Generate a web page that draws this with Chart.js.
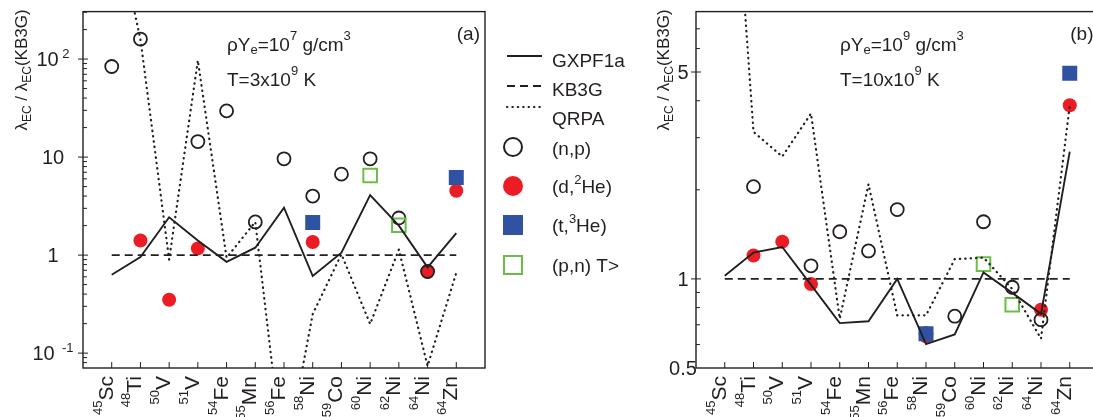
<!DOCTYPE html>
<html>
<head>
<meta charset="utf-8">
<script src="https://cdn.jsdelivr.net/npm/chart.js@4"></script>
<style>
  html, body { margin: 0; padding: 0; background: #fff; overflow: hidden; width: 1093px; height: 417px; }
  #ca { position: absolute; left: 0; top: 0; }
  #cb { position: absolute; left: 645px; top: 0; }
</style>
</head>
<body>
<canvas id="ca" width="645" height="417"></canvas>
<canvas id="cb" width="475" height="417"></canvas>
<script>
// categories: element symbol + mass number
const isotopeSymbols = ["Sc", "Ti", "V", "V", "Fe", "Mn", "Fe", "Ni", "Co", "Ni", "Ni", "Ni", "Zn"];
const massNumbers = ["45", "48", "50", "51", "54", "55", "56", "58", "59", "60", "62", "64", "64"];

// panel (a): rhoYe = 1e7 g/cm3, T = 3e9 K
const gxpf1aA = [0.63, 0.955, 2.43, 1.41, 0.855, 1.19, 3.05, 0.612, 1.06, 4.1, 2.0, 0.75, 1.68];
const kb3gA = [1, 1, 1, 1, 1, 1, 1, 1, 1, 1, 1, 1, 1];
const qrpaA = [3500, 160, 0.9, 97, 0.94, 2.18, 0.007, 0.25, 1.02, 0.198, 1.14, 0.074, 0.66];
const npA = [84, 160, null, 14.4, 29.6, 2.18, 9.6, 4.0, 6.7, 9.6, 2.39, 0.68, null];
const d2heA = [null, 1.41, 0.35, 1.17, null, null, null, 1.36, null, null, null, 0.68, 4.54];
const t3heA = [null, null, null, null, null, null, null, 2.15, null, null, null, null, 6.2];
const pnA = [null, null, null, null, null, null, null, null, null, 6.5, 2.02, null, null];

// panel (b): rhoYe = 1e9 g/cm3, T = 10e9 K
const gxpf1aB = [1.025, 1.227, 1.282, 0.955, 0.709, 0.719, 1.0, 0.602, 0.649, 1.052, 0.897, 0.762, 2.69];
const kb3gB = [1, 1, 1, 1, 1, 1, 1, 1, 1, 1, 1, 1, 1];
const qrpaB = [75, 3.14, 2.59, 3.62, 0.734, 2.09, 0.753, 0.753, 1.166, 1.18, 0.925, 0.628, 3.86];
const npB = [null, 2.05, null, 1.107, 1.443, 1.243, 1.715, 0.653, 0.748, 1.56, 0.937, 0.728, null];
const d2heB = [null, 1.2, 1.336, 0.961, null, null, null, 0.64, null, null, null, 0.787, 3.86];
const t3heB = [null, null, null, null, null, null, null, 0.653, null, null, null, null, 4.95];
const pnB = [null, null, null, null, null, null, null, null, null, 1.122, 0.818, null, null];

// y tick labels
const yTickValuesA = [0.1, 1, 10, 100];
const yTickLabelsA = [[["10"], ["  -1", "sup"]], [["1"]], [["10"]], [["10"], [" 2", "sup"]]];
const yTickValuesB = [0.5, 1, 5];
const yTickLabelsB = [[["0.5"]], [["1"]], [["5"]]];

const yTitle = [["λ"], ["EC", "sub"], [" / λ"], ["EC", "sub"], ["(KB3G)"]];
const notesA = [[["ρY"], ["e", "sub"], ["=10"], ["7", "sup"], [" g/cm"], ["3", "sup"]], [["T=3x10"], ["9", "sup"], [" K"]]];
const notesB = [[["ρY"], ["e", "sub"], ["=10"], ["9", "sup"], [" g/cm"], ["3", "sup"]], [["T=10x10"], ["9", "sup"], [" K"]]];

const legendLabels = [
  [["GXPF1a"]], [["KB3G"]], [["QRPA"]], [["(n,p)"]],
  [["(d,"], ["2", "sup"], ["He)"]], [["(t,"], ["3", "sup"], ["He)"]], [["(p,n) T>"]],
];

const INK = "#231f20";
const RED = "#ec1c24";
const BLUE = "#2f52a2";
const GREEN = "#6cbd45";
const FONT = '"Liberation Sans", Arial, Helvetica, sans-serif';
const DOTS = [0.4, 5];

const toPoints = (vals) => vals.flatMap((v, i) => (v == null ? [] : [{ x: i, y: v }]));

/**
 * Draw text made of normal / sup / sub runs
 */
function drawRich(ctx, parts, x, y, size, opt = {}) {
  const small = opt.small || Math.round(size * 0.68);
  const supUp = opt.supUp != null ? opt.supUp : size * 0.45;
  const subDown = opt.subDown != null ? opt.subDown : size * 0.22;
  const runs = parts.map(([t, k]) => ({ t, k, font: `${k ? small : size}px ${FONT}` }));
  let w = 0;
  runs.forEach((r) => {
    ctx.font = r.font;
    r.w = ctx.measureText(r.t).width;
    w += r.w;
  });
  let cx = opt.align === "center" ? x - w / 2 : opt.align === "right" ? x - w : x;
  ctx.textAlign = "left";
  ctx.textBaseline = "alphabetic";
  runs.forEach((r) => {
    ctx.font = r.font;
    const dy = r.k === "sup" ? -supUp : r.k === "sub" ? subDown : 0;
    ctx.fillText(r.t, cx, y + dy);
    cx += r.w;
  });
}

function framePlugin(cfg) {
  return {
    id: "frame",
    afterDatasetsDraw(chart) {
      const { ctx, chartArea: a, scales } = chart;
      const xs = scales.x, ys = scales.y;
      ctx.save();
      ctx.strokeStyle = INK;
      ctx.fillStyle = INK;
      ctx.lineWidth = 1.4;
      ctx.setLineDash([]);
      ctx.strokeRect(a.left, a.top, a.right - a.left, a.bottom - a.top);

      // y ticks: every k*10^n, long where labelled
      ctx.lineWidth = 1;
      for (let n = -2; n <= 3; n++) {
        for (let k = 1; k <= 9; k++) {
          const v = k * Math.pow(10, n);
          if (v <= ys.min * 1.0001 || v >= ys.max * 0.9999) continue;
          const py = ys.getPixelForValue(v);
          const major = cfg.yTickValues.some((t) => Math.abs(t - v) / t < 1e-6);
          ctx.beginPath();
          ctx.moveTo(a.left - (major ? 5 : 0), py);
          ctx.lineTo(a.left + (major ? 5 : 4), py);
          ctx.stroke();
        }
      }
      cfg.yTickValues.forEach((v, i) => {
        const py = ys.getPixelForValue(v);
        drawRich(ctx, cfg.yTickLabels[i], a.left + cfg.tickLabelDx, py + 7, 20, { align: "center", small: 13, supUp: 8 });
      });

      // x ticks and rotated isotope labels
      isotopeSymbols.forEach((sym, i) => {
        const px = xs.getPixelForValue(i);
        ctx.lineWidth = 1;
        ctx.beginPath();
        ctx.moveTo(px, a.bottom);
        ctx.lineTo(px, a.bottom - 6);
        ctx.stroke();
        ctx.save();
        ctx.translate(px + 1, a.bottom + 8);
        ctx.rotate(-Math.PI / 2);
        drawRich(ctx, [[massNumbers[i], "sup"], [sym]], 0, 0, 21, { align: "right", small: 13, supUp: 11 });
        ctx.restore();
      });

      // axis title
      ctx.save();
      ctx.translate(a.left + cfg.titleDx, 70);
      ctx.rotate(-Math.PI / 2);
      drawRich(ctx, yTitle, 0, 0, 17, { align: "center", small: 12, subDown: 4 });
      ctx.restore();

      // conditions and panel tag
      drawRich(ctx, cfg.notes[0], a.left + 144, a.top + 39, 19, { small: 13, supUp: 10.5, subDown: 3.5 });
      drawRich(ctx, cfg.notes[1], a.left + 144, a.top + 74, 19, { small: 13, supUp: 10.5 });
      drawRich(ctx, [[cfg.tag]], a.right - 5, a.top + 28, 19, { align: "right" });

      if (cfg.legend) drawLegend(ctx);
      ctx.restore();
    },
  };
}

function drawLegend(ctx) {
  const x0 = 507, x1 = 542, tx = 552;
  ctx.strokeStyle = INK;
  const lines = [
    { y: 56, dash: [], w: 1.8, cap: "butt" },
    { y: 86, dash: [8, 5], w: 1.8, cap: "butt" },
    { y: 107, dash: DOTS, w: 2.2, cap: "round" },
  ];
  lines.forEach((l) => {
    ctx.setLineDash(l.dash);
    ctx.lineWidth = l.w;
    ctx.lineCap = l.cap;
    ctx.beginPath();
    ctx.moveTo(x0, l.y);
    ctx.lineTo(x1, l.y);
    ctx.stroke();
  });
  ctx.setLineDash([]);
  ctx.lineCap = "butt";
  // markers
  ctx.lineWidth = 2;
  ctx.beginPath();
  ctx.arc(513, 147, 9, 0, Math.PI * 2);
  ctx.stroke();
  ctx.fillStyle = RED;
  ctx.beginPath();
  ctx.arc(513, 186, 10, 0, Math.PI * 2);
  ctx.fill();
  ctx.fillStyle = BLUE;
  ctx.fillRect(503, 215, 20, 20);
  ctx.strokeStyle = GREEN;
  ctx.strokeRect(504, 256, 18, 18);
  // texts
  ctx.fillStyle = INK;
  const textY = [60, 89, 118, 148, 186, 225, 265];
  legendLabels.forEach((parts, i) => {
    drawRich(ctx, parts, tx, textY[i] + 7, 19, { small: 13, supUp: 9 });
  });
}

function makePanel(canvasId, p) {
  const datasets = [
    { data: toPoints(p.gxpf1a), borderColor: INK, borderWidth: 1.9, pointRadius: 0, order: 0 },
    { data: toPoints(p.kb3g), borderColor: INK, borderWidth: 1.8, borderDash: [8, 5], pointRadius: 0, order: 0 },
    {
      data: toPoints(p.qrpa), borderColor: INK, borderWidth: 2.2, borderDash: DOTS,
      borderCapStyle: "round", pointRadius: 0, order: 0,
    },
    {
      data: toPoints(p.pn), showLine: false, pointStyle: "rect", pointRadius: 9.6,
      pointBorderWidth: 2, pointBorderColor: GREEN, pointBackgroundColor: "rgba(0,0,0,0)", order: 1,
    },
    {
      data: toPoints(p.t3he), showLine: false, pointStyle: "rect", pointRadius: 10.6,
      pointBorderWidth: 0, pointBackgroundColor: BLUE, order: 2,
    },
    {
      data: toPoints(p.np), showLine: false, pointStyle: "circle", pointRadius: 6.5,
      pointBorderWidth: 1.8, pointBorderColor: INK, pointBackgroundColor: "rgba(0,0,0,0)", order: 3,
    },
    {
      data: toPoints(p.d2he), showLine: false, pointStyle: "circle", pointRadius: 7,
      pointBorderWidth: 0, pointBackgroundColor: RED, order: 4,
    },
  ];
  return new Chart(document.getElementById(canvasId), {
    type: "line",
    data: { datasets },
    options: {
      responsive: false,
      animation: false,
      events: [],
      elements: { line: { tension: 0, fill: false } },
      layout: { padding: p.padding },
      scales: {
        x: { type: "linear", min: -1, max: 13, display: false },
        y: { type: "logarithmic", min: p.yMin, max: p.yMax, display: false },
      },
      plugins: { legend: { display: false }, tooltip: { enabled: false } },
    },
    plugins: [framePlugin(p)],
  });
}

makePanel("ca", {
  gxpf1a: gxpf1aA, kb3g: kb3gA, qrpa: qrpaA, np: npA, d2he: d2heA, t3he: t3heA, pn: pnA,
  yMin: 0.0705, yMax: 305,
  yTickValues: yTickValuesA, yTickLabels: yTickLabelsA,
  padding: { left: 83, right: 160, top: 8, bottom: 49 },
  tickLabelDx: -30, titleDx: -56,
  notes: notesA, tag: "(a)", legend: true,
});

makePanel("cb", {
  gxpf1a: gxpf1aB, kb3g: kb3gB, qrpa: qrpaB, np: npB, d2he: d2heB, t3he: t3heB, pn: pnB,
  yMin: 0.5, yMax: 8,
  yTickValues: yTickValuesB, yTickLabels: yTickLabelsB,
  padding: { left: 51, right: 21.5, top: 9, bottom: 49 },
  tickLabelDx: -13, titleDx: -27,
  notes: notesB, tag: "(b)", legend: false,
});
</script>
</body>
</html>
